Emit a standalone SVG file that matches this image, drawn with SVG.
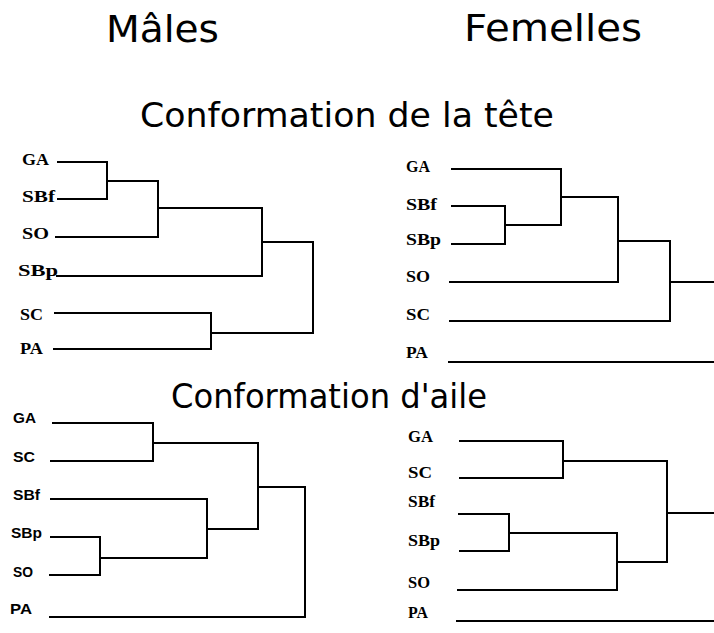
<svg xmlns="http://www.w3.org/2000/svg" width="714" height="633" viewBox="0 0 714 633">
<style>
.title{font-family:"DejaVu Sans",sans-serif;fill:#000}
.ls{font-family:"Liberation Serif",serif;font-weight:bold;font-size:16.5px;fill:#000}
.la{font-family:"Liberation Sans",sans-serif;font-weight:bold;font-size:15.5px;fill:#000}
.c{fill:none;stroke:#000;stroke-width:2;stroke-linecap:square}
</style>
<rect width="714" height="633" fill="#fff"/>
<g id="titles">
<text class="title" x="106" y="42" font-size="38" textLength="113" lengthAdjust="spacingAndGlyphs">Mâles</text>
<text class="title" x="464" y="41" font-size="38" textLength="178" lengthAdjust="spacingAndGlyphs">Femelles</text>
<text class="title" x="140" y="127" font-size="34.5" textLength="414" lengthAdjust="spacingAndGlyphs">Conformation de la tête</text>
<text class="title" x="171" y="408" font-size="33" textLength="316" lengthAdjust="spacingAndGlyphs">Conformation d'aile</text>
</g>
<g id="tete-males">
<g id="tm-GA"><text class="ls" x="22" y="165" textLength="27" lengthAdjust="spacingAndGlyphs">GA</text></g>
<g id="tm-SBf"><text class="ls" x="22" y="202" textLength="33" lengthAdjust="spacingAndGlyphs">SBf</text></g>
<g id="tm-SO"><text class="ls" x="22" y="239" textLength="27" lengthAdjust="spacingAndGlyphs">SO</text></g>
<g id="tm-SBp"><text class="ls" x="18" y="276" textLength="40" lengthAdjust="spacingAndGlyphs">SBp</text></g>
<g id="tm-SC"><text class="ls" x="20" y="320" textLength="23" lengthAdjust="spacingAndGlyphs">SC</text></g>
<g id="tm-PA"><text class="ls" x="20" y="354" textLength="23" lengthAdjust="spacingAndGlyphs">PA</text></g>
</g>
<g id="tete-femelles">
<g id="tf-GA"><text class="ls" x="406" y="172" textLength="24" lengthAdjust="spacingAndGlyphs">GA</text></g>
<g id="tf-SBf"><text class="ls" x="406" y="210" textLength="31" lengthAdjust="spacingAndGlyphs">SBf</text></g>
<g id="tf-SBp"><text class="ls" x="406" y="245" textLength="35" lengthAdjust="spacingAndGlyphs">SBp</text></g>
<g id="tf-SO"><text class="ls" x="406" y="282" textLength="24" lengthAdjust="spacingAndGlyphs">SO</text></g>
<g id="tf-SC"><text class="ls" x="406" y="320" textLength="24" lengthAdjust="spacingAndGlyphs">SC</text></g>
<g id="tf-PA"><text class="ls" x="406" y="358" textLength="22" lengthAdjust="spacingAndGlyphs">PA</text></g>
</g>
<g id="aile-males">
<g id="am-GA"><text class="la" x="13" y="423" textLength="23" lengthAdjust="spacingAndGlyphs">GA</text></g>
<g id="am-SC"><text class="la" x="13" y="462" textLength="22" lengthAdjust="spacingAndGlyphs">SC</text></g>
<g id="am-SBf"><text class="la" x="13" y="500" textLength="27" lengthAdjust="spacingAndGlyphs">SBf</text></g>
<g id="am-SBp"><text class="la" x="11" y="538" textLength="31" lengthAdjust="spacingAndGlyphs">SBp</text></g>
<g id="am-SO"><text class="la" x="13" y="577" textLength="20" lengthAdjust="spacingAndGlyphs">SO</text></g>
<g id="am-PA"><text class="la" x="10" y="614" textLength="22" lengthAdjust="spacingAndGlyphs">PA</text></g>
</g>
<g id="aile-femelles">
<g id="af-GA"><text class="ls" x="408" y="442" textLength="25" lengthAdjust="spacingAndGlyphs">GA</text></g>
<g id="af-SC"><text class="ls" x="408" y="478" textLength="24" lengthAdjust="spacingAndGlyphs">SC</text></g>
<g id="af-SBf"><text class="ls" x="408" y="507" textLength="27" lengthAdjust="spacingAndGlyphs">SBf</text></g>
<g id="af-SBp"><text class="ls" x="408" y="546" textLength="32" lengthAdjust="spacingAndGlyphs">SBp</text></g>
<g id="af-SO"><text class="ls" x="408" y="588" textLength="22" lengthAdjust="spacingAndGlyphs">SO</text></g>
<g id="af-PA"><text class="ls" x="408" y="618" textLength="20" lengthAdjust="spacingAndGlyphs">PA</text></g>
</g>
<g id="connectors">
<path class="c" d="M58,162 H107 V199 H58 M107,181 H158 M56,237 H158 V181 M158,208 H262 M57,276 H262 V208 M262,242 H313 M55,313 H211 V349 H54 M211,333 H313 V242"/>
<path class="c" d="M452,169 H561 M452,206 H505 V244 H452 M505,225 H561 V169 M561,197 H618 M450,282 H618 V197 M618,241 H670 M450,321 H670 V241 M670,282 H714 M449,362 H714"/>
<path class="c" d="M53,423 H153 V461 H51 M153,443 H258 M51,499 H207 M51,537 H100 V575 H50 M100,558 H207 V499 M207,529 H258 V443 M258,487 H305 M50,617 H305 V487"/>
<path class="c" d="M460,441 H563 V478 H460 M563,461 H667 M459,514 H509 V551 H460 M509,533 H617 M458,590 H617 V533 M617,562 H667 V461 M667,513 H714 M457,621 H714"/>
</g>
</svg>
